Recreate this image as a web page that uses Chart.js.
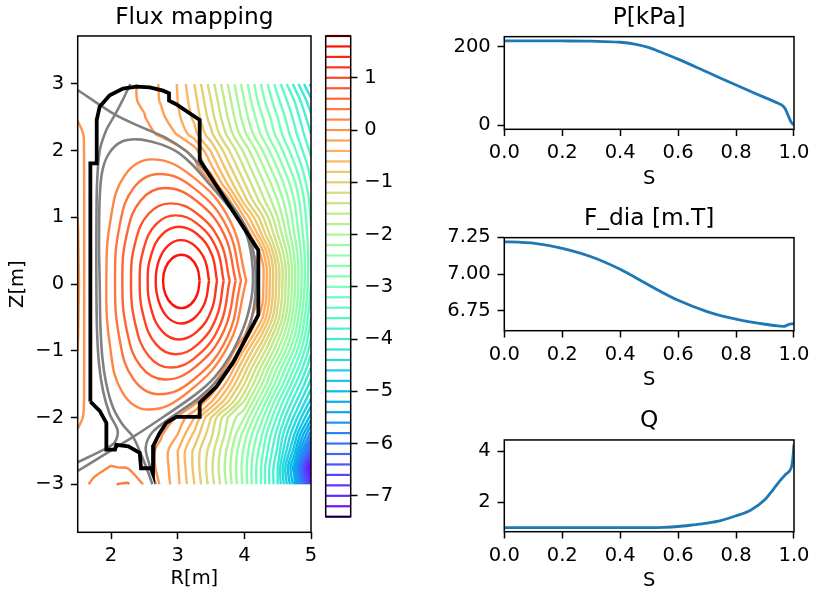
<!DOCTYPE html>
<html>
<head>
<meta charset="utf-8">
<script src="https://cdn.jsdelivr.net/npm/chart.js@4.4.1/dist/chart.umd.min.js"></script>
<style>
html,body{margin:0;padding:0;background:#fff;overflow:hidden;width:815px;height:591px;position:relative;}
canvas{position:absolute;}
</style>
</head>
<body>
<canvas id="flux" style="left:0px;top:0px;width:330px;height:591px" width="330" height="591"></canvas>
<canvas id="cbar" style="left:300px;top:0px;width:100px;height:591px" width="100" height="591"></canvas>
<canvas id="pchart" style="left:430px;top:0px;width:385px;height:200px" width="385" height="200"></canvas>
<canvas id="fchart" style="left:430px;top:200px;width:385px;height:200px" width="385" height="200"></canvas>
<canvas id="qchart" style="left:430px;top:400px;width:385px;height:200px" width="385" height="200"></canvas>
<script>
// ---------------- DATA ----------------
// Flux grid (R columns, Z rows), psi values
const gridR = [1.5, 1.6, 1.75, 2.0, 2.25, 2.5, 2.75, 3.0, 3.25, 3.5, 3.75, 4.0, 4.25, 4.5, 4.75, 5.0];
const gridZ = [-3.0, -2.75, -2.5, -2.25, -2.0, -1.75, -1.5, -1.25, -1.0, -0.75, -0.5, -0.25, 0.0,
               0.25, 0.5, 0.75, 1.0, 1.25, 1.5, 1.75, 2.0, 2.25, 2.5, 2.75, 3.0];
const psiGrid = [
  [0.13, 0.17, 0.24, 0.39, 0.42, 0.18, -0.02, -0.35, -0.8, -1.3, -1.85, -2.48, -3.2, -4.0, -5.1, -6.9],
  [0.08, 0.11, 0.15, 0.21, 0.19, 0.1, -0.05, -0.38, -0.85, -1.35, -1.9, -2.5, -3.2, -4.0, -5.3, -7.5],
  [0.03, 0.045, 0.06, 0.1, 0.15, 0.08, -0.05, -0.4, -0.85, -1.3, -1.85, -2.45, -3.1, -3.85, -4.9, -6.4],
  [0.01, 0.02, 0.04, 0.075, 0.1, 0.08, 0.02, -0.2, -0.65, -1.15, -1.7, -2.3, -2.95, -3.7, -4.6, -5.7],
  [-0.02, 0.006, 0.03, 0.07, 0.13, 0.15, 0.1, -0.02, -0.4, -1.0, -1.6, -2.0, -2.7, -3.45, -4.25, -5.1],
  [-0.09, 0.005, 0.02, 0.08, 0.17, 0.24, 0.23, 0.17, 0.11, -0.35, -0.95, -1.6, -2.35, -3.15, -3.9, -4.65],
  [-0.13, 0.005, 0.03, 0.1, 0.3, 0.46, 0.53, 0.51, 0.4, 0.1, -0.5, -1.2, -1.95, -2.75, -3.55, -4.3],
  [-0.17, 0.005, 0.08, 0.25, 0.48, 0.66, 0.78, 0.8, 0.72, 0.45, -0.1, -0.85, -1.62, -2.42, -3.2, -4.0],
  [-0.2, 0.005, 0.07, 0.28, 0.55, 0.8, 0.98, 1.05, 0.98, 0.72, 0.28, -0.45, -1.2, -2.0, -2.85, -3.75],
  [-0.22, 0.005, 0.05, 0.3, 0.6, 0.92, 1.15, 1.27, 1.2, 0.95, 0.55, 0.05, -0.75, -1.65, -2.55, -3.55],
  [-0.23, 0.005, 0.04, 0.32, 0.66, 1.0, 1.32, 1.48, 1.42, 1.15, 0.72, 0.24, -0.3, -1.3, -2.35, -3.4],
  [-0.24, 0.005, 0.03, 0.33, 0.7, 1.08, 1.48, 1.67, 1.58, 1.3, 0.83, 0.27, -0.08, -1.15, -2.2, -3.28],
  [-0.25, 0.005, 0.03, 0.33, 0.72, 1.12, 1.58, 1.74, 1.67, 1.35, 0.86, 0.28, -0.05, -1.1, -2.15, -3.2],
  [-0.24, 0.005, 0.03, 0.35, 0.68, 1.08, 1.5, 1.72, 1.65, 1.33, 0.85, 0.25, -0.05, -1.1, -2.15, -3.17],
  [-0.23, 0.005, 0.04, 0.3, 0.7, 1.0, 1.32, 1.55, 1.45, 1.17, 0.72, 0.26, -0.28, -1.32, -2.25, -3.16],
  [-0.22, 0.005, 0.04, 0.3, 0.64, 0.95, 1.2, 1.31, 1.25, 0.98, 0.58, 0.1, -0.78, -1.6, -2.4, -3.18],
  [-0.2, 0.005, 0.05, 0.28, 0.55, 0.77, 0.95, 1.03, 0.9, 0.65, 0.38, -0.4, -1.1, -1.8, -2.5, -3.22],
  [-0.18, 0.005, 0.06, 0.28, 0.48, 0.68, 0.78, 0.77, 0.7, 0.42, -0.1, -0.9, -1.48, -2.0, -2.6, -3.28],
  [-0.15, 0.005, 0.05, 0.2, 0.35, 0.48, 0.54, 0.53, 0.4, 0.05, -0.62, -1.18, -1.7, -2.2, -2.75, -3.38],
  [-0.12, 0.005, 0.04, 0.14, 0.2, 0.26, 0.28, 0.26, 0.11, -0.35, -0.9, -1.42, -1.92, -2.42, -2.95, -3.5],
  [-0.08, 0.005, 0.03, 0.11, 0.14, 0.16, 0.15, 0.1, -0.1, -0.62, -1.15, -1.65, -2.15, -2.65, -3.15, -3.65],
  [-0.02, 0.004, 0.03, 0.065, 0.08, 0.06, -0.03, -0.22, -0.52, -0.95, -1.45, -1.95, -2.42, -2.88, -3.33, -3.8],
  [0.005, 0.018, 0.035, 0.06, 0.03, 0.01, -0.15, -0.35, -0.65, -1.1, -1.6, -2.1, -2.55, -3.0, -3.45, -3.95],
  [0.035, 0.042, 0.05, 0.07, 0.04, -0.03, -0.22, -0.4, -0.72, -1.2, -1.7, -2.2, -2.7, -3.15, -3.6, -4.15],
  [0.06, 0.07, 0.08, 0.08, 0.055, -0.05, -0.23, -0.41, -0.8, -1.3, -1.8, -2.3, -2.8, -3.3, -3.85, -4.45]
];
// contour levels (also colorbar lines)
const levels = [1.8, 1.6, 1.4, 1.2, 1.0, 0.8, 0.6, 0.4, 0.2, 0.0, -0.2, -0.4, -0.6, -0.8, -1.0, -1.2,
  -1.4, -1.6, -1.8, -2.0, -2.2, -2.4, -2.6, -2.8, -3.0, -3.2, -3.4, -3.6, -3.8, -4.0, -4.2, -4.4,
  -4.6, -4.8, -5.0, -5.2, -5.4, -5.6, -5.8, -6.0, -6.2, -6.4, -6.6, -6.8, -7.0, -7.2, -7.4];
// closed flux surfaces inside the plasma
const ringLevels = [1.6, 1.4, 1.2, 1.0, 0.8, 0.6, 0.4, 0.2];
const ringR = [
  [3.33, 3.293, 3.193, 3.055, 2.918, 2.817, 2.78, 2.817, 2.918, 3.055, 3.193, 3.293],
  [3.47, 3.411, 3.255, 3.05, 2.855, 2.719, 2.67, 2.719, 2.855, 3.05, 3.255, 3.411],
  [3.59, 3.507, 3.29, 3.018, 2.772, 2.607, 2.55, 2.607, 2.772, 3.018, 3.29, 3.507],
  [3.69, 3.58, 3.301, 2.965, 2.677, 2.492, 2.43, 2.492, 2.677, 2.965, 3.301, 3.58],
  [3.78, 3.64, 3.293, 2.892, 2.564, 2.365, 2.30, 2.365, 2.564, 2.892, 3.293, 3.64],
  [3.87, 3.697, 3.275, 2.808, 2.445, 2.236, 2.17, 2.236, 2.445, 2.808, 3.275, 3.697],
  [3.95, 3.742, 3.248, 2.722, 2.335, 2.124, 2.06, 2.124, 2.335, 2.722, 3.248, 3.742],
  [4.03, 3.781, 3.203, 2.613, 2.203, 1.992, 1.93, 1.983, 2.17, 2.56, 3.154, 3.762]
];
const ringZ = [
  [0.05, 0.245, 0.388, 0.44, 0.388, 0.245, 0.05, -0.155, -0.305, -0.36, -0.305, -0.155],
  [0.05, 0.355, 0.578, 0.66, 0.578, 0.355, 0.05, -0.27, -0.504, -0.59, -0.504, -0.27],
  [0.05, 0.455, 0.751, 0.86, 0.751, 0.455, 0.05, -0.39, -0.712, -0.83, -0.712, -0.39],
  [0.05, 0.54, 0.899, 1.03, 0.899, 0.54, 0.05, -0.5, -0.903, -1.05, -0.903, -0.5],
  [0.05, 0.63, 1.055, 1.21, 1.055, 0.63, 0.05, -0.6, -1.076, -1.25, -1.076, -0.6],
  [0.05, 0.745, 1.254, 1.44, 1.254, 0.745, 0.05, -0.69, -1.232, -1.43, -1.232, -0.69],
  [0.05, 0.85, 1.436, 1.65, 1.436, 0.85, 0.05, -0.8, -1.422, -1.65, -1.422, -0.8],
  [0.05, 0.96, 1.626, 1.87, 1.626, 0.96, 0.05, -0.915, -1.621, -1.88, -1.621, -0.915]
];
// first wall (black)
const wallR = [1.69, 1.69, 1.785, 1.785, 1.83, 1.98, 2.18, 2.38, 2.58, 2.78, 2.87, 2.87, 2.97, 3.33, 3.33, 4.21, 4.21,
  3.83, 3.58, 3.33, 3.33, 2.98, 2.83, 2.73, 2.64, 2.63, 2.6, 2.45, 2.43, 2.26, 2.08, 2.06, 1.93, 1.93, 1.83, 1.69];
const wallZ = [-1.76, 1.81, 1.81, 2.46, 2.66, 2.83, 2.93, 2.96, 2.95, 2.9, 2.86, 2.75, 2.7, 2.46, 1.86, 0.51, -0.46,
  -1.18, -1.54, -1.78, -1.99, -1.99, -2.08, -2.23, -2.41, -2.84, -2.76, -2.76, -2.53, -2.43, -2.41, -2.48, -2.48, -2.08, -1.9, -1.76];
// separatrix through lower X-point (grey)
const lcfsR = [1.5, 2.33, 2.8, 3.26, 3.55, 3.8, 4.0, 4.1, 4.13, 4.11, 4.03, 3.87, 3.65, 3.45, 3.22, 2.98, 2.7, 2.4,
  2.15, 1.97, 1.87, 1.83, 1.82, 1.83, 1.84, 1.87, 1.93, 2.03, 2.17, 2.33, 2.45, 2.55, 2.62];
const lcfsZ = [-2.8, -2.29, -1.98, -1.66, -1.4, -1.05, -0.62, -0.25, 0.05, 0.4, 0.75, 1.03, 1.3, 1.53, 1.79, 1.99, 2.11, 2.17,
  2.13, 1.96, 1.7, 1.3, 0.6, 0.0, -0.6, -1.1, -1.5, -1.85, -2.1, -2.29, -2.55, -2.8, -3.0];
// separatrix through upper X-point (grey), two branches
const sep2R = [1.5, 2.06, 2.44, 2.83, 3.12, 3.32, 3.52, 3.72, 3.92, 4.07, 4.15, 4.17, 4.15, 4.06, 3.87, 3.6, 3.3, 2.9,
  2.62, 2.52, 2.58, 2.67, NaN, 2.29, 2.17, 2.06, 1.93, 1.83, 1.79, 1.78, 1.78, 1.79, 1.82, 1.88, 1.98, 2.1, 2.05, 1.85, 1.5];
const sep2Z = [2.91, 2.54, 2.36, 2.19, 2.0, 1.8, 1.57, 1.3, 1.03, 0.75, 0.4, 0.05, -0.3, -0.68, -1.08, -1.44, -1.72, -2.0,
  -2.22, -2.45, -2.72, -3.0, NaN, 3.0, 2.75, 2.54, 2.31, 2.0, 1.5, 0.77, 0.0, -0.7, -1.2, -1.6, -1.95, -2.2, -2.38, -2.5, -2.67];
const rTicks = [2, 3, 4, 5];
const zTicks = [-3, -2, -1, 0, 1, 2, 3];
const cbTicks = [-7, -6, -5, -4, -3, -2, -1, 0, 1];

// profiles
const sP = [0, 0.1, 0.2, 0.3, 0.4, 0.45, 0.5, 0.55, 0.6, 0.7, 0.8, 0.9, 0.95, 0.96, 0.97, 0.98, 0.99, 1.0];
const pressure = [214.5, 214.5, 214.3, 213.6, 211, 206.5, 197.5, 183, 168, 135, 102, 70, 54, 50, 41, 24, 8, 0];
const sF = [0, 0.05, 0.1, 0.2, 0.3, 0.4, 0.5, 0.6, 0.7, 0.8, 0.9, 0.95, 0.965, 0.98, 1.0];
const fdia = [7.218, 7.216, 7.21, 7.174, 7.117, 7.032, 6.924, 6.822, 6.746, 6.694, 6.66, 6.648, 6.645, 6.658, 6.664];
const sQ = [0, 0.1, 0.2, 0.3, 0.4, 0.5, 0.55, 0.6, 0.65, 0.7, 0.75, 0.8, 0.85, 0.9, 0.93, 0.95, 0.97, 0.99, 0.995, 1.0];
const qProf = [1.0, 1.0, 1.0, 1.0, 1.0, 1.0, 1.01, 1.04, 1.1, 1.17, 1.28, 1.46, 1.68, 2.1, 2.52, 2.81, 3.07, 3.33, 3.6, 4.27];
const sTicks = [0, 0.2, 0.4, 0.6, 0.8, 1.0];
const pTicks = [0, 200];
const fTicks = [6.75, 7.0, 7.25];
const qTicks = [2, 4];

// ---------------- HELPERS ----------------
const TICK = 19.5, TITLE = 23.3, TL = 6.8, TW = 1.5;
Chart.defaults.font.family = "'DejaVu Sans', sans-serif";
Chart.defaults.color = '#000';
Chart.defaults.animation = false;
Chart.defaults.events = [];
Chart.defaults.plugins.legend.display = false;
Chart.defaults.plugins.tooltip.enabled = false;

const framePlugin = {
  id: 'frame',
  afterDatasetsDraw(chart) {
    const {ctx, chartArea: a} = chart;
    ctx.save();
    ctx.strokeStyle = '#000';
    ctx.lineWidth = TW;
    ctx.strokeRect(a.left, a.top, a.right - a.left, a.bottom - a.top);
    ctx.restore();
  }
};
Chart.register(framePlugin);

const minus = v => String(v).replace('-', '\u2212');
const lo = levels[levels.length - 1], hi = levels[0];
function rainbow(level) {
  const x = (level - lo) / (hi - lo);
  const cl = v => Math.round(255 * Math.max(0, Math.min(1, v)));
  return `rgb(${cl(Math.abs(2 * x - 0.5))},${cl(Math.sin(Math.PI * x))},${cl(Math.cos(Math.PI * x / 2))})`;
}
const pairsToPts = (rs, zs) => rs.map((r, i) => ({x: r, y: zs[i]}));

// closed plasma boundary polygon (between the two passes through the X-point)
const xIdx = lcfsR.map((r, i) => (r === lcfsR[1] && lcfsZ[i] === lcfsZ[1]) ? i : -1).filter(i => i >= 0);
const plasmaPoly = pairsToPts(lcfsR.slice(xIdx[0], xIdx[xIdx.length - 1] + 1), lcfsZ.slice(xIdx[0], xIdx[xIdx.length - 1] + 1));
function insidePlasma(p) {
  let inside = false;
  for (let i = 0, j = plasmaPoly.length - 1; i < plasmaPoly.length; j = i++) {
    const a = plasmaPoly[i], b = plasmaPoly[j];
    if ((a.y > p.y) !== (b.y > p.y) && p.x < (b.x - a.x) * (p.y - a.y) / (b.y - a.y) + a.x) inside = !inside;
  }
  return inside;
}

// marching squares on psiGrid (outside the closed surfaces), chained into polylines
function contourPaths(level) {
  const lev = level + 1e-6;
  const nz = gridZ.length, nr = gridR.length;
  const pts = new Map();
  const hKey = (j, i) => {
    const k = 'h' + j + ',' + i;
    if (!pts.has(k)) { const a = psiGrid[j][i], b = psiGrid[j][i + 1]; const t = (lev - a) / (b - a);
      pts.set(k, {x: gridR[i] + t * (gridR[i + 1] - gridR[i]), y: gridZ[j]}); }
    return k;
  };
  const vKey = (j, i) => {
    const k = 'v' + j + ',' + i;
    if (!pts.has(k)) { const a = psiGrid[j][i], b = psiGrid[j + 1][i]; const t = (lev - a) / (b - a);
      pts.set(k, {x: gridR[i], y: gridZ[j] + t * (gridZ[j + 1] - gridZ[j])}); }
    return k;
  };
  const segs = [];
  for (let j = 0; j < nz - 1; j++) for (let i = 0; i < nr - 1; i++) {
    const a = psiGrid[j][i], b = psiGrid[j][i + 1], c = psiGrid[j + 1][i + 1], d = psiGrid[j + 1][i];
    const code = (a > lev ? 1 : 0) | (b > lev ? 2 : 0) | (c > lev ? 4 : 0) | (d > lev ? 8 : 0);
    if (code === 0 || code === 15) continue;
    const E = [() => hKey(j, i), () => vKey(j, i + 1), () => hKey(j + 1, i), () => vKey(j, i)];
    const center = (a + b + c + d) / 4 > lev;
    let pairs;
    switch (code) {
      case 1: case 14: pairs = [[3, 0]]; break;
      case 2: case 13: pairs = [[0, 1]]; break;
      case 3: case 12: pairs = [[3, 1]]; break;
      case 4: case 11: pairs = [[1, 2]]; break;
      case 6: case 9: pairs = [[0, 2]]; break;
      case 7: case 8: pairs = [[2, 3]]; break;
      case 5: pairs = center ? [[0, 1], [2, 3]] : [[3, 0], [1, 2]]; break;
      case 10: pairs = center ? [[3, 0], [1, 2]] : [[0, 1], [2, 3]]; break;
    }
    for (const [p, q] of pairs) {
      const k1 = E[p](), k2 = E[q]();
      const p1 = pts.get(k1), p2 = pts.get(k2);
      if (insidePlasma({x: (p1.x + p2.x) / 2, y: (p1.y + p2.y) / 2})) continue;
      segs.push([k1, k2]);
    }
  }
  const adj = new Map();
  segs.forEach((s, n) => s.forEach(k => { if (!adj.has(k)) adj.set(k, []); adj.get(k).push(n); }));
  const used = new Array(segs.length).fill(false);
  const lines = [];
  const walk = (n, startKey) => {
    const line = [startKey];
    let key = startKey, cur = n;
    while (cur !== undefined) {
      used[cur] = true;
      const s = segs[cur];
      key = s[0] === key ? s[1] : s[0];
      line.push(key);
      cur = adj.get(key).find(m => !used[m]);
    }
    return line;
  };
  for (const [k, list] of adj) if (list.length === 1 && !used[list[0]]) lines.push(walk(list[0], k));
  segs.forEach((s, n) => { if (!used[n]) lines.push(walk(n, s[0])); });
  const out = [];
  lines.forEach(l => { l.forEach(k => out.push(pts.get(k))); out.push({x: NaN, y: NaN}); });
  return out;
}

function axisBase(extra) {
  return Object.assign({
    type: 'linear',
    grid: {drawOnChartArea: false, drawTicks: true, tickLength: TL, tickWidth: TW, tickColor: '#000'},
    border: {display: false},
  }, extra);
}

// ---------------- FLUX MAP ----------------
const contourSets = [];
levels.forEach(lv => {
  contourSets.push({data: contourPaths(lv), showLine: true, borderColor: rainbow(lv), borderWidth: 2.4,
    pointRadius: 0, tension: 0.35, spanGaps: false});
  const ri = ringLevels.indexOf(lv);
  if (ri >= 0) {
    const ring = pairsToPts(ringR[ri], ringZ[ri]);
    ring.push(ring[0]);
    contourSets.push({data: ring, showLine: true, borderColor: rainbow(lv), borderWidth: 2.4,
      pointRadius: 0, tension: 0.42, spanGaps: false});
  }
});
new Chart(document.getElementById('flux'), {
  type: 'scatter',
  data: {datasets: [
    {data: pairsToPts(wallR, wallZ), showLine: true, borderColor: '#000', borderWidth: 3.8, pointRadius: 0, tension: 0, borderJoinStyle: 'miter'},
    {data: pairsToPts(lcfsR, lcfsZ), showLine: true, borderColor: '#808080', borderWidth: 2.6, pointRadius: 0, tension: 0.3, spanGaps: false},
    {data: pairsToPts(sep2R, sep2Z), showLine: true, borderColor: '#808080', borderWidth: 2.6, pointRadius: 0, tension: 0.3, spanGaps: false},
    ...contourSets
  ]},
  options: {
    responsive: false, devicePixelRatio: 1,
    layout: {padding: {left: 0, right: 19, top: 0, bottom: 0}},
    plugins: {title: {display: true, text: 'Flux mapping', fullSize: false,
      font: {size: TITLE, weight: 'normal'}, padding: {top: 4, bottom: 4}}},
    scales: {
      x: axisBase({min: 1.5, max: 5,
        afterFit: s => { s.height = 58.7; },
        afterBuildTicks: s => { s.ticks = rTicks.map(v => ({value: v})); },
        ticks: {font: {size: TICK}, padding: 5.5, autoSkip: false, maxRotation: 0, callback: v => minus(v)},
        title: {display: true, text: 'R[m]', font: {size: TICK}, padding: {top: 0, bottom: 0}}}),
      y: axisBase({min: -3.72, max: 3.72,
        afterFit: s => { s.width = 77.7; },
        afterBuildTicks: s => { s.ticks = zTicks.map(v => ({value: v})); },
        ticks: {font: {size: TICK}, padding: 6.8, autoSkip: false, callback: v => minus(v)},
        title: {display: true, text: 'Z[m]', font: {size: TICK}, padding: {top: 6.3, bottom: 0}}})
    }
  }
});

// ---------------- COLORBAR ----------------
new Chart(document.getElementById('cbar'), {
  type: 'scatter',
  data: {datasets: [{
    data: levels.map(v => ({x: 0.5, y: v})),
    pointStyle: 'line', pointRadius: 12.5, pointBorderWidth: 2.2,
    pointBorderColor: levels.map(rainbow), pointBackgroundColor: levels.map(rainbow),
    showLine: false, clip: false
  }]},
  options: {
    responsive: false, devicePixelRatio: 1,
    layout: {padding: {left: 25.7, right: 0, top: 36, bottom: 74.3}},
    scales: {
      x: {type: 'linear', display: false, min: 0, max: 1},
      y: axisBase({position: 'right', min: lo, max: hi,
        afterFit: s => { s.width = 49.3; },
        afterBuildTicks: s => { s.ticks = cbTicks.map(v => ({value: v})); },
        ticks: {font: {size: TICK}, padding: 6.8, autoSkip: false, callback: v => minus(v)}})
    }
  }
});

// ---------------- PROFILES ----------------
function profile(id, xs, ys, title, yTicks, yFmt, padTop, padBottom) {
  const mn = Math.min(...ys), mx = Math.max(...ys), m = 0.05 * (mx - mn);
  new Chart(document.getElementById(id), {
    type: 'scatter',
    data: {datasets: [{data: pairsToPts(xs, ys), showLine: true, borderColor: '#1f77b4', borderWidth: 2.8,
      pointRadius: 0, cubicInterpolationMode: 'monotone'}]},
    options: {
      responsive: false, devicePixelRatio: 1,
      layout: {padding: {left: 0, right: 18.3, top: padTop, bottom: padBottom}},
      plugins: {title: {display: true, text: title, fullSize: false,
        font: {size: TITLE, weight: 'normal'}, padding: {top: 0, bottom: 4.7}}},
      scales: {
        x: axisBase({min: 0, max: 1,
          afterFit: s => { s.height = 62; },
          afterBuildTicks: s => { s.ticks = sTicks.map(v => ({value: v})); },
          ticks: {font: {size: TICK}, padding: 5.5, autoSkip: false, maxRotation: 0, callback: v => Number(v).toFixed(1)},
          title: {display: true, text: 'S', font: {size: TICK}, padding: {top: 0, bottom: 0.8}}}),
        y: axisBase({min: mn - m, max: mx + m,
          afterFit: s => { s.width = 74.3; },
          afterBuildTicks: s => { s.ticks = yTicks.map(v => ({value: v})); },
          ticks: {font: {size: TICK}, padding: 6.8, autoSkip: false, callback: yFmt}})
      }
    }
  });
}
profile('pchart', sP, pressure, 'P[kPa]', pTicks, v => String(v), 4, 8.7);
profile('fchart', sF, fdia, 'F_dia [m.T]', fTicks, v => Number(v).toFixed(2), 5, 7.3);
profile('qchart', sQ, qProf, 'Q', qTicks, v => String(v), 7.3, 6.3);
</script>
</body>
</html>
